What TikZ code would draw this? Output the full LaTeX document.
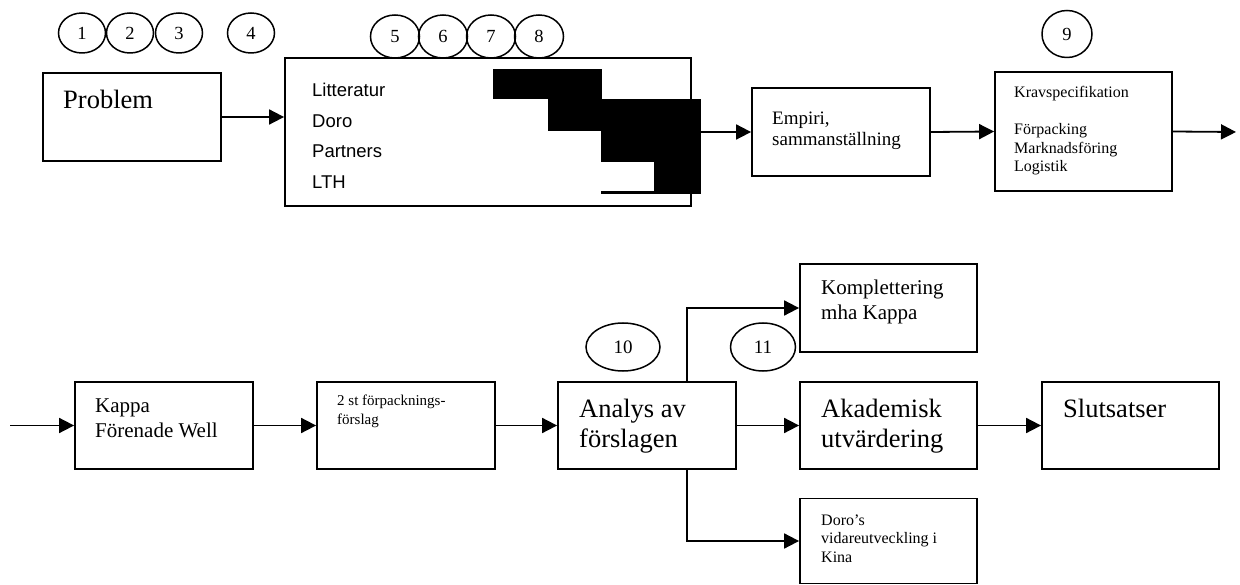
\documentclass[tikz,border=0pt]{standalone}
\usepackage{fontspec}
\setmainfont{Liberation Serif}
\newfontfamily\arialfont{Liberation Sans}
\usetikzlibrary{arrows.meta,shapes.geometric}

\begin{document}
\begin{tikzpicture}[x=1pt,y=-1pt,
  box/.style={draw,line width=1.8pt,rectangle,inner sep=0pt},
  numring/.style={draw,line width=1.5pt,ellipse,inner sep=0pt,
    font=\fontsize{18.5}{20}\selectfont},
  arr/.style={line width=1.8pt,-{Triangle[length=15pt,width=15pt]}},
  txt/.style={inner sep=0pt,anchor=base west},
  fA/.style={font=\fontsize{26.5}{30}\selectfont},
  fB/.style={font=\fontsize{21}{24}\selectfont},
  fC/.style={font=\fontsize{19}{22}\selectfont},
  fD/.style={font=\fontsize{16}{18}\selectfont},
  fE/.style={font=\fontsize{15}{17}\selectfont},
  fS/.style={font=\arialfont\fontsize{18.5}{21}\selectfont}]
\useasboundingbox (0,0) rectangle (1240,585);

% ---------- upper row ----------
\node[box,minimum width=178pt,minimum height=88pt] (prob) at (132,117) {};
\node[box,minimum width=406pt,minimum height=148pt] (src) at (488,132) {};
\node[box,minimum width=178pt,minimum height=88pt] (emp) at (841,132) {};
\node[box,minimum width=177pt,minimum height=119pt] (krav) at (1083.5,131.5) {};

% Gantt-style bars inside the source box
\fill (493,69) rectangle (602,99);
\fill (548,99) rectangle (701,131);
\fill (601,131) rectangle (701,162);
\fill (654,162) rectangle (701,194);
\draw[line width=2.5pt] (601,192.5) -- (655,192.5);
\coordinate (srcout) at (701,132);
\coordinate (next) at (1236,132);

% numbered rings
\node[numring,minimum width=47pt,minimum height=40pt] (n1) at (82,33) {1};
\node[numring,minimum width=47pt,minimum height=40pt] (n2) at (130,33) {2};
\node[numring,minimum width=47pt,minimum height=40pt] (n3) at (179,33) {3};
\node[numring,minimum width=47pt,minimum height=40pt] (n4) at (251,33) {4};
\node[numring,minimum width=49pt,minimum height=43pt] (n5) at (395,36.5) {5};
\node[numring,minimum width=49pt,minimum height=43pt] (n6) at (443,36.5) {6};
\node[numring,minimum width=49pt,minimum height=43pt] (n7) at (491,36.5) {7};
\node[numring,minimum width=49pt,minimum height=43pt] (n8) at (539,36.5) {8};
\node[numring,minimum width=50pt,minimum height=47pt] (n9) at (1067,34) {9};

% texts
\node[txt,fA] (tprob) at (63,109) {Problem};
\node[txt,fS] (tlit) at (312,97) {Litteratur};
\node[txt,fS] (tdoro) at (312,127.5) {Doro};
\node[txt,fS] (tpart) at (312,158) {Partners};
\node[txt,fS] (tlth) at (312,188.5) {LTH};
\node[txt,fC] (temp1) at (772,125) {Empiri,};
\node[txt,fC] (temp2) at (772,146) {sammanställning};
\node[txt,fD] (tkr1) at (1014,98) {Kravspecifikation};
\node[txt,fD] (tkr2) at (1014,135) {Förpacking};
\node[txt,fD] (tkr3) at (1014,153.5) {Marknadsföring};
\node[txt,fD] (tkr4) at (1014,172) {Logistik};

% connectors
\draw[arr] (prob.east) -- (prob.east -| src.west);
\draw[arr] (srcout) -- (emp.west);
\draw[arr] (emp.east) -- (krav.west);
\draw[arr] (krav.east) -- (next);

% ---------- lower row ----------
\coordinate (start) at (10,425.5);
\node[box,minimum width=178pt,minimum height=87pt] (kappa) at (164,425.5) {};
\node[box,minimum width=178pt,minimum height=87pt] (forsl) at (406,425.5) {};
\node[box,minimum width=178pt,minimum height=87pt] (anal) at (647,425.5) {};
\node[box,minimum width=177pt,minimum height=87pt] (akad) at (888.5,425.5) {};
\node[box,minimum width=177pt,minimum height=87pt] (slut) at (1130.5,425.5) {};
\node[box,minimum width=177pt,minimum height=88pt] (kompl) at (888.5,308) {};
\node[box,minimum width=177pt,minimum height=85pt] (kina) at (888.5,541) {};
\coordinate (br) at (687,0);

\node[numring,minimum width=74pt,minimum height=48pt,font=\fontsize{19}{21}\selectfont] (n10) at (623,347) {10};
\node[numring,minimum width=65pt,minimum height=48pt,font=\fontsize{19}{21}\selectfont] (n11) at (763,347) {11};

\node[txt,fB] (tka1) at (95,412) {Kappa};
\node[txt,fB] (tka2) at (95,437) {Förenade Well};
\node[txt,fE] (tfo1) at (337,405) {2 st förpacknings-};
\node[txt,fE] (tfo2) at (337,424) {förslag};
\node[txt,fA] (tan1) at (579,417) {Analys av};
\node[txt,fA] (tan2) at (579,447) {förslagen};
\node[txt,fA] (tak1) at (821,417) {Akademisk};
\node[txt,fA] (tak2) at (821,447) {utvärdering};
\node[txt,fA] (tsl) at (1063,417) {Slutsatser};
\node[txt,fB] (tko1) at (821,295) {Komplettering};
\node[txt,fB] (tko2) at (821,320) {mha Kappa};
\node[txt,fD] (tki1) at (821,525) {Doro’s};
\node[txt,fD] (tki2) at (821,543.5) {vidareutveckling i};
\node[txt,fD] (tki3) at (821,562) {Kina};

\draw[arr] (start) -- (kappa.west);
\draw[arr] (kappa.east) -- (forsl.west);
\draw[arr] (forsl.east) -- (anal.west);
\draw[arr] (anal.east) -- (akad.west);
\draw[arr] (akad.east) -- (slut.west);
\draw[arr] (anal.north -| br) |- (kompl.west);
\draw[arr] (anal.south -| br) |- (kina.west);
\end{tikzpicture}
\end{document}
